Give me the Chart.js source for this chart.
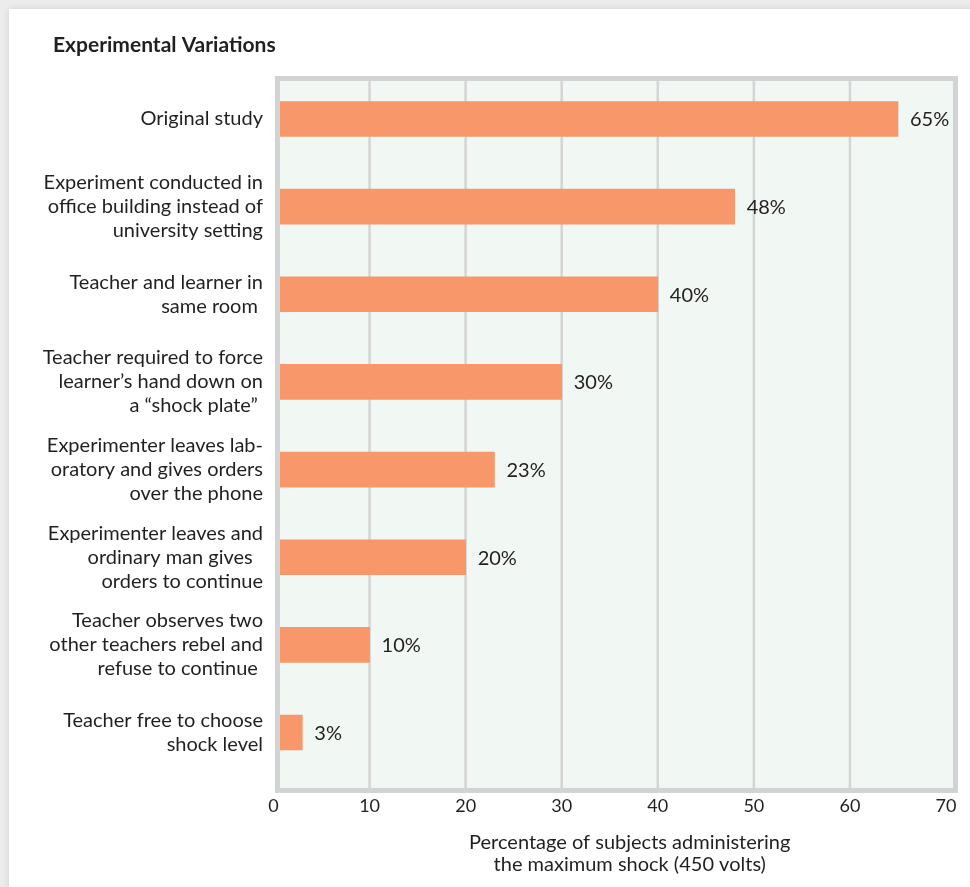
<!DOCTYPE html>
<html>
<head>
<meta charset="utf-8">
<title>Experimental Variations</title>
<script src="https://cdn.jsdelivr.net/npm/chart.js@4.4.1/dist/chart.umd.min.js"></script>
<style>
  html, body { margin: 0; padding: 0; background: #ffffff; }
  canvas { display: block; }
</style>
</head>
<body>
<canvas id="chart" width="970" height="887"></canvas>
<script>
// ---- data ----
const categories = [
  'Original study',
  ['Experiment conducted in', 'office building instead of', 'university setting'],
  ['Teacher and learner in', 'same room '],
  ['Teacher required to force', 'learner\u2019s hand down on', 'a \u201cshock plate\u201d '],
  ['Experimenter leaves lab-', 'oratory and gives orders', 'over the phone'],
  ['Experimenter leaves and', 'ordinary man gives  ', 'orders to continue'],
  ['Teacher observes two', 'other teachers rebel and', 'refuse to continue '],
  ['Teacher free to choose', 'shock level']
];
const percentMaxShock = [65, 48, 40, 30, 23, 20, 10, 3];
const xTickValues = [0, 10, 20, 30, 40, 50, 60, 70];
const chartTitle = 'Experimental Variations';
const xAxisTitle = ['Percentage of subjects administering', 'the maximum shock (450 volts)'];

// ---- styling ----
const FONT = 'Lato, "Open Sans", "Liberation Sans", sans-serif';
const INK = '#231f20';
const BAR = '#f7976a';
const PLOT_BG = '#f1f7f3';
const FRAME = '#d2d3d5';
const GRID = '#d3d5d6';
const FRAME_W = 5;
// frame edges measured from the chart area
const frameBox = (ca) => ({
  left: ca.left + 1.5,
  top: ca.top + 0.8,
  right: ca.right + 12,
  bottom: ca.bottom + 16.7
});

const backdrop = {
  id: 'backdrop',
  beforeDraw(chart) {
    const { ctx, width, height, chartArea } = chart;
    ctx.save();
    ctx.fillStyle = '#ececec';
    ctx.fillRect(0, 0, width, height);
    ctx.shadowColor = 'rgba(0,0,0,0.10)';
    ctx.shadowBlur = 8;
    ctx.fillStyle = '#ffffff';
    ctx.fillRect(9, 9, width + 20, height + 20);
    ctx.shadowColor = 'transparent';
    ctx.shadowBlur = 0;

    // heading
    ctx.fillStyle = INK;
    ctx.font = 'bold 21px ' + FONT;
    ctx.textAlign = 'left';
    ctx.textBaseline = 'middle';
    ctx.fillText(chartTitle, 53, 45);

    const f = frameBox(chartArea);
    ctx.fillStyle = PLOT_BG;
    ctx.fillRect(f.left, f.top, f.right - f.left, f.bottom - f.top);

    // vertical grid lines, running the full height of the frame
    const xs = chart.scales.x;
    ctx.strokeStyle = GRID;
    ctx.lineWidth = 2.5;
    xTickValues.slice(1, -1).forEach(v => {
      const px = xs.getPixelForValue(v);
      ctx.beginPath();
      ctx.moveTo(px, f.top);
      ctx.lineTo(px, f.bottom);
      ctx.stroke();
    });
    ctx.restore();
  }
};

const overlays = {
  id: 'overlays',
  afterDatasetsDraw(chart) {
    const { ctx, chartArea } = chart;
    const f = frameBox(chartArea);
    ctx.save();
    // plot frame
    ctx.strokeStyle = FRAME;
    ctx.lineWidth = FRAME_W;
    const h = FRAME_W / 2;
    ctx.strokeRect(f.left + h, f.top + h, f.right - f.left - FRAME_W, f.bottom - f.top - FRAME_W);

    // value labels beside each bar
    ctx.fillStyle = INK;
    ctx.font = '20px ' + FONT;
    ctx.textAlign = 'left';
    ctx.textBaseline = 'middle';
    const meta = chart.getDatasetMeta(0);
    meta.data.forEach((bar, i) => {
      ctx.fillText(percentMaxShock[i] + '%', bar.x + 12, bar.y + 1);
    });

    // x axis title
    ctx.font = '20px ' + FONT;
    ctx.textAlign = 'center';
    ctx.textBaseline = 'alphabetic';
    const cx = (chartArea.left + chartArea.right) / 2 + 20;
    ctx.fillText(xAxisTitle[0], cx, chartArea.bottom + 73);
    ctx.fillText(xAxisTitle[1], cx, chartArea.bottom + 95);
    ctx.restore();
  }
};

new Chart(document.getElementById('chart'), {
  type: 'bar',
  data: {
    labels: categories,
    datasets: [{
      data: percentMaxShock,
      backgroundColor: BAR,
      borderWidth: 0,
      barThickness: 35,
      clip: { left: -6, top: false, right: false, bottom: false }
    }]
  },
  options: {
    indexAxis: 'y',
    responsive: false,
    animation: false,
    layout: { padding: { left: 10, right: 24, top: 75.2, bottom: 0 } },
    plugins: {
      legend: { display: false },
      tooltip: { enabled: false },
      title: { display: false }
    },
    scales: {
      x: {
        min: 0,
        max: 70,
        afterBuildTicks: (s) => { s.ticks = xTickValues.map(v => ({ value: v })); },
        grid: { display: false, drawTicks: false },
        border: { display: false },
        ticks: {
          color: INK,
          font: { family: FONT, size: 18, lineHeight: 1.2 },
          padding: 19
        },
        afterFit: (s) => {
          s.height = 887 - 776.3;
          s.paddingLeft = 0;
          s.paddingRight = 0;
        }
      },
      y: {
        grid: { display: false, drawTicks: false },
        border: { display: false },
        ticks: {
          color: INK,
          font: { family: FONT, size: 20, lineHeight: 1.2 },
          padding: 10.5,
          autoSkip: false
        },
        afterFit: (s) => { s.width = 263.5; }
      }
    }
  },
  plugins: [backdrop, overlays]
});
</script>
</body>
</html>
